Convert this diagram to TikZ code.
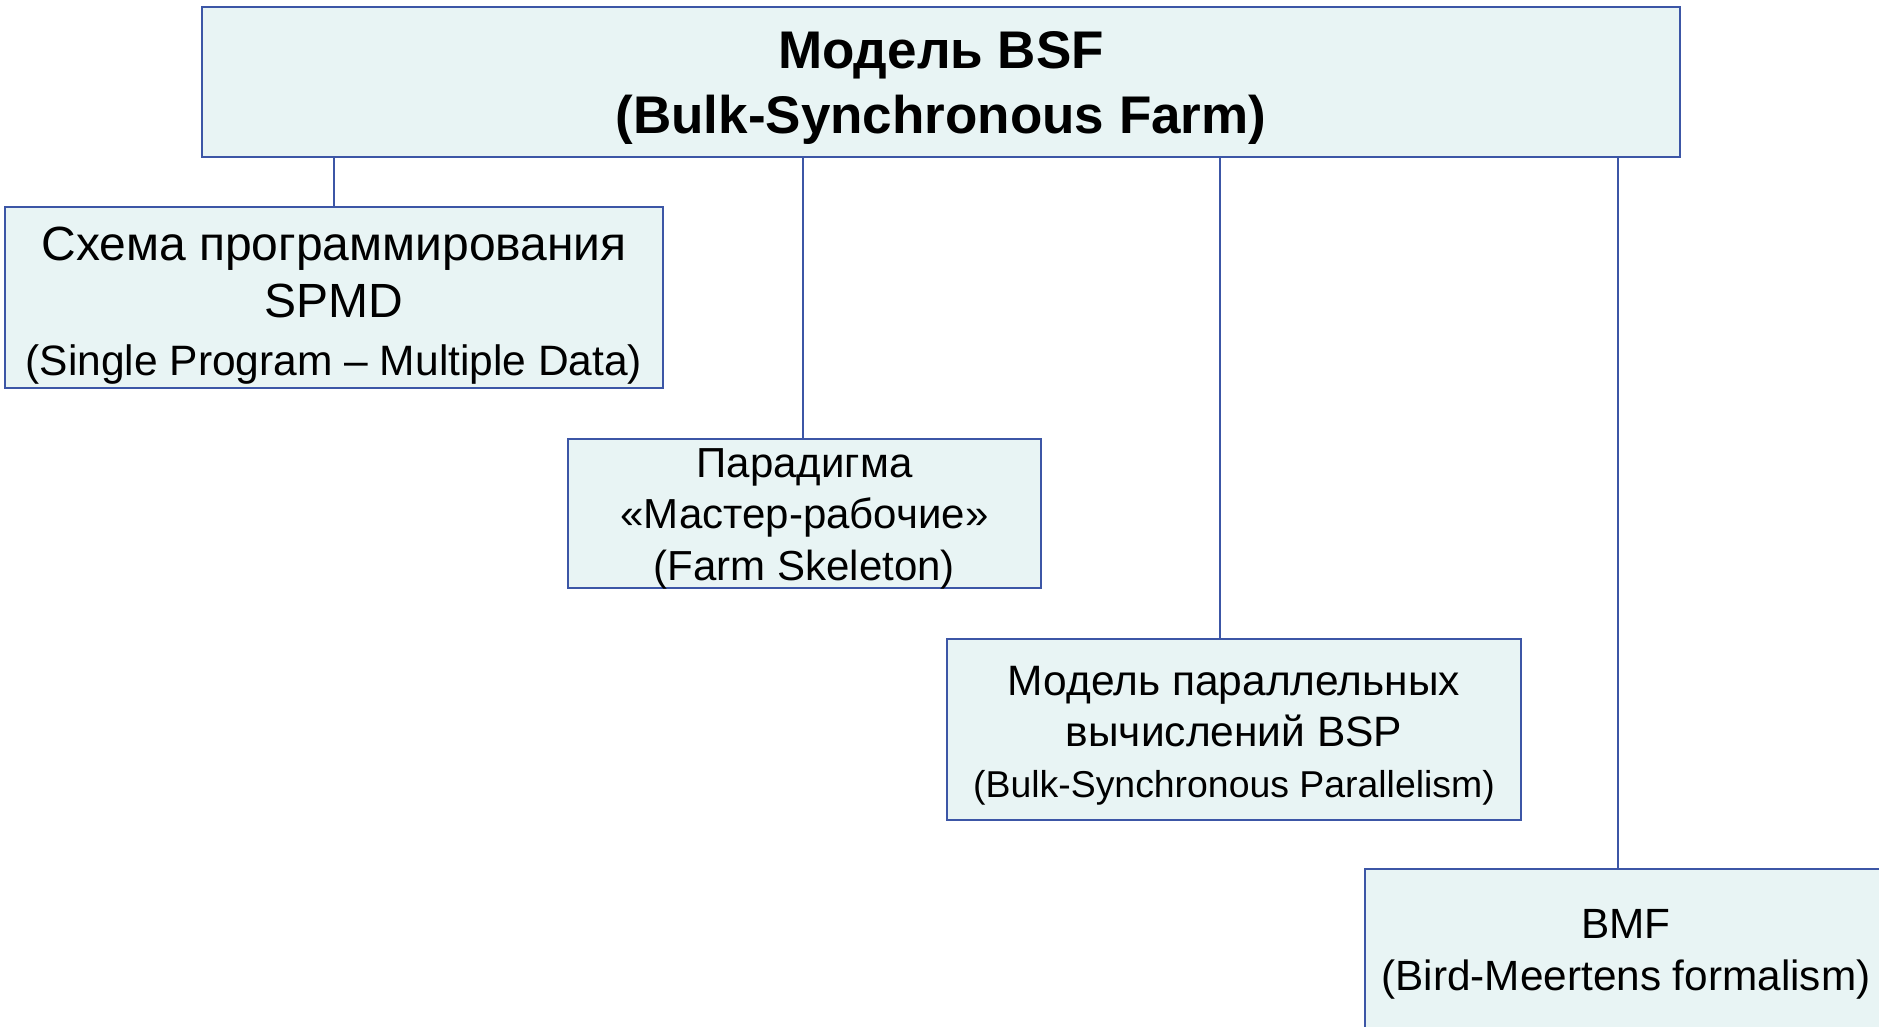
\documentclass[tikz,border=0pt]{standalone}
\usepackage{fontspec}
\setmainfont{Liberation Sans}
\definecolor{boxfill}{RGB}{232,244,244}
\definecolor{boxline}{RGB}{60,86,166}

\begin{document}
\begin{tikzpicture}[x=1pt,y=-1pt,
  box/.style={draw=boxline, fill=boxfill, line width=2pt, rectangle,
              inner sep=0pt},
  caption/.style={inner sep=0pt, align=center},
  link/.style={draw=boxline, line width=2pt}]
\useasboundingbox (0,0) rectangle (1879,1027);
\clip (0,0) rectangle (1879,1027);

% boxes
\node[box, minimum width=1478pt, minimum height=150pt] (bsf)  at (941,82) {};
\node[box, minimum width=658pt,  minimum height=181pt] (spmd) at (334,297.5) {};
\node[box, minimum width=473pt,  minimum height=149pt] (farm) at (804.5,513.5) {};
\node[box, minimum width=574pt,  minimum height=181pt] (bsp)  at (1234,729.5) {};
\node[box, minimum width=522pt,  minimum height=164pt] (bmf)  at (1626,951) {};

% box texts
\node[caption, font=\bfseries\fontsize{53}{65}\selectfont]
  (bsf-text) at ([yshift=-5.5pt]bsf.center)
  {Модель BSF\\(Bulk-Synchronous Farm)};

\node[caption, font=\fontsize{48}{57.5}\selectfont]
  (spmd-text) at ([yshift=-8pt]spmd.center)
  {Схема программирования\\SPMD\\\fontsize{42.5}{47.5}\selectfont(Single Program – Multiple Data)};

\node[caption, font=\fontsize{42}{51.5}\selectfont]
  (farm-text) at ([yshift=-5pt]farm.center)
  {Парадигма\\«Мастер-рабочие»\\(Farm Skeleton)};

\node[caption, font=\fontsize{42.5}{51}\selectfont]
  (bsp-text) at ([yshift=-6pt]bsp.center)
  {Модель параллельных\\вычислений BSP\\\fontsize{37.4}{42.5}\selectfont(Bulk-Synchronous Parallelism)};

\node[caption, font=\fontsize{42.3}{52}\selectfont]
  (bmf-text) at ([yshift=-3.5pt]bmf.center)
  {BMF\\(Bird-Meertens formalism)};

% connectors
\draw[link] (bsf.south -| spmd.north) -- (spmd.north);
\draw[link] (bsf.south -| 803,0) -- (farm.north -| 803,0);
\draw[link] (bsf.south -| 1220,0) -- (bsp.north -| 1220,0);
\draw[link] (bsf.south -| 1618,0) -- (bmf.north -| 1618,0);
\end{tikzpicture}
\end{document}
